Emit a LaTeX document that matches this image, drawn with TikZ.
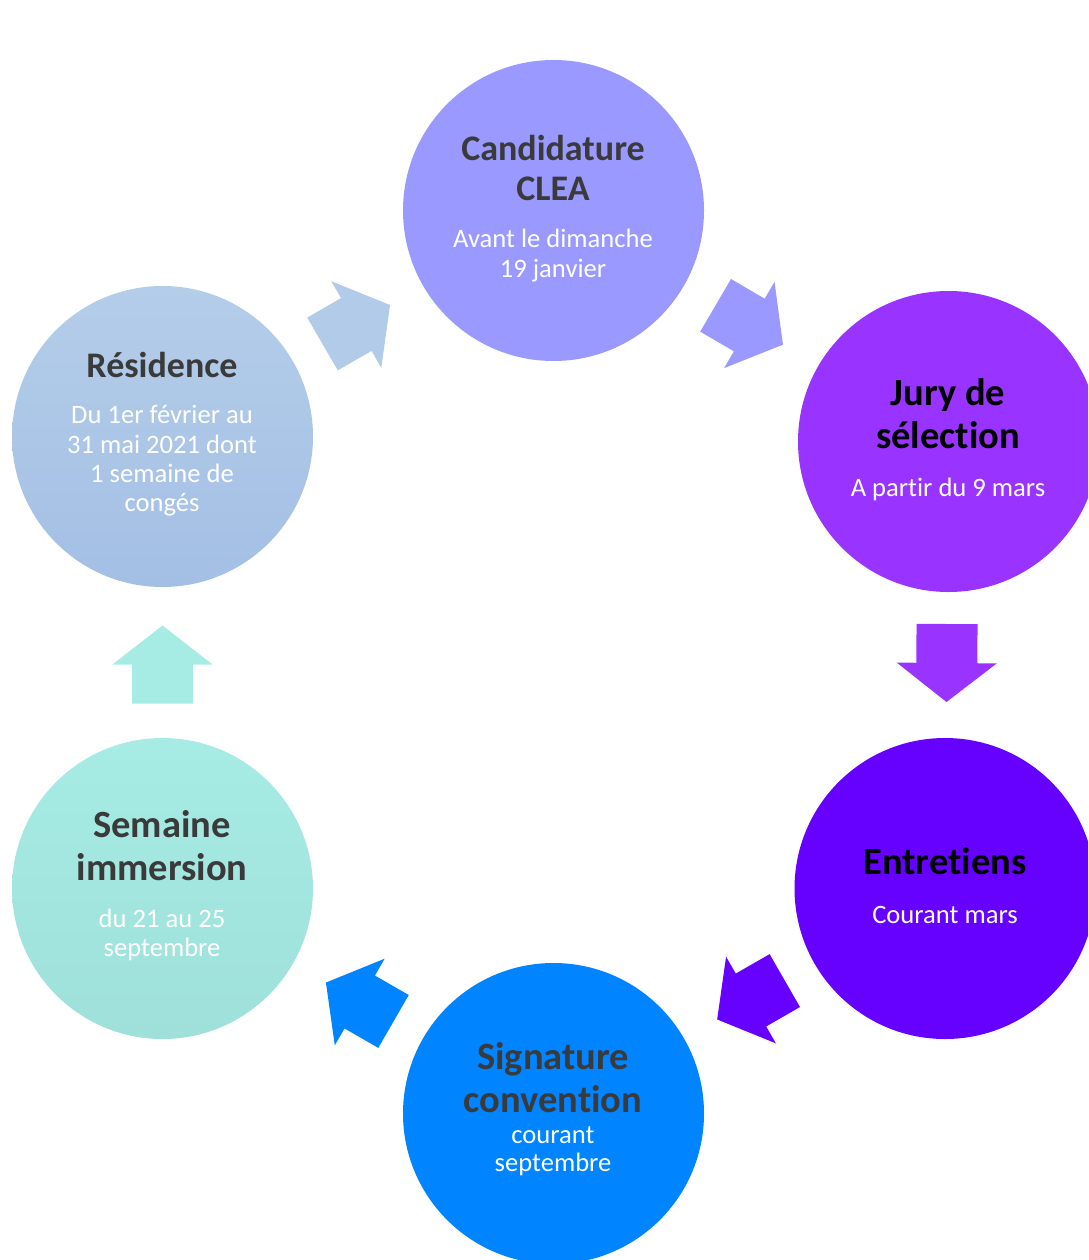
\documentclass[tikz,border=0pt]{standalone}
\usepackage{fontspec}
\setmainfont{Carlito}[Ligatures={NoCommon,NoContextual}]
\usetikzlibrary{calc}
\definecolor{cA}{HTML}{9999FF}
\definecolor{cB}{HTML}{9933FF}
\definecolor{cC}{HTML}{6600FF}
\definecolor{cD}{HTML}{0084FF}
\definecolor{cE}{HTML}{A6ECE4}
\definecolor{cEb}{HTML}{9FE0DA}
\definecolor{cF}{HTML}{B4CDE9}
\definecolor{cFb}{HTML}{A3BFE4}
\definecolor{tgray}{HTML}{3A3A3A}
\tikzset{
  disc/.style={circle, minimum size=301pt, inner sep=0pt},
  ttl/.style={align=center, font=\bfseries\fontsize{38.5}{43}\selectfont, text=tgray},
  ttls/.style={ttl, font=\bfseries\fontsize{36}{40}\selectfont},
  ttlk/.style={ttl, text=black},
  sub/.style={align=center, font=\fontsize{26.6}{29.3}\selectfont, text=white},
}
\newcommand{\blockarr}[3]{%
  \coordinate (M) at ($(#1.center)!0.5!(#2.center)$);
  \coordinate (T) at ($(M)!-41pt!(#2.center)$);
  \coordinate (B) at ($(M)!-2pt!(#2.center)$);
  \coordinate (P) at ($(M)!37pt!(#2.center)$);
  \fill[#3] ($(T)!30.5pt!90:(#2.center)$) -- ($(B)!30.5pt!90:(#2.center)$)
    -- ($(B)!50pt!90:(#2.center)$) -- (P) -- ($(B)!50pt!-90:(#2.center)$)
    -- ($(B)!30.5pt!-90:(#2.center)$) -- ($(T)!30.5pt!-90:(#2.center)$) -- cycle;
}
\begin{document}
\begin{tikzpicture}[x=1pt, y=-1pt]
\useasboundingbox (0,0) rectangle (1088,1260);
\clip (0,0) rectangle (1088,1260);
% circles
\node[disc, fill=cA] (c1) at (553.5,210.5) {};
\node[disc, fill=cB] (c2) at (948.5,441.5) {};
\node[disc, fill=cC] (c3) at (945,888.5) {};
\node[disc, fill=cD] (c4) at (553.5,1113.5) {};
\node[disc, top color=cE, bottom color=cEb] (c5) at (162.5,888.5) {};
\node[disc, top color=cF, bottom color=cFb] (c6) at (162.5,436.5) {};
% arrows
\blockarr{c1}{c2}{cA}
\blockarr{c2}{c3}{cB}
\blockarr{c3}{c4}{cC}
\blockarr{c4}{c5}{cD}
\blockarr{c5}{c6}{cE}
\blockarr{c6}{c1}{cF!85!cFb}
% texts
\node[ttls] (t1) at (553,168) {Candidature\\CLEA};
\node[sub] (s1) at (553,255.5) {Avant le dimanche\\19 janvier};
\node[ttlk] (t2) at (948,413.5) {Jury de\\sélection};
\node[sub] (s2) at (948,489) {A partir du 9 mars};
\node[ttlk] (t3) at (945,861) {Entretiens};
\node[sub] (s3) at (945,914.5) {Courant mars};
\node[ttl] (t4) at (553,1077.5) {Signature\\convention};
\node[sub, font=\fontsize{26.6}{28}\selectfont] (s4) at (553,1151.5) {courant\\septembre};
\node[ttl] (t5) at (162,846) {Semaine\\immersion};
\node[sub] (s5) at (162,935) {du 21 au 25\\septembre};
\node[ttls] (t6) at (162,365) {Résidence};
\node[sub] (s6) at (162,461) {Du 1er février au\\31 mai 2021 dont\\1 semaine de\\congés};
\end{tikzpicture}
\end{document}
